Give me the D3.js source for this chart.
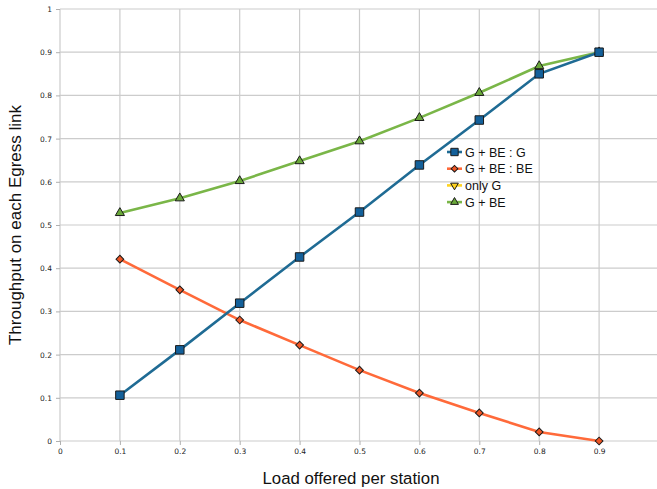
<!DOCTYPE html>
<html><head><meta charset="utf-8">
<script src="https://cdn.jsdelivr.net/npm/d3@7/dist/d3.min.js"></script>
<style>body{margin:0;background:#fff;}svg{display:block;font-family:"Liberation Sans",Arial,sans-serif;}</style>
</head><body><svg id="c" width="657" height="489"></svg>
<script>
const loads = [0.1,0.2,0.3,0.4,0.5,0.6,0.7,0.8,0.9];
const gbeG  = [0.106,0.211,0.319,0.426,0.530,0.639,0.743,0.850,0.900];
const gbeBE = [0.421,0.350,0.280,0.222,0.164,0.111,0.065,0.021,0.000];
const onlyG = [];
const gbe   = [0.528,0.562,0.602,0.648,0.694,0.748,0.806,0.868,0.900];
const xTicks = [0,0.1,0.2,0.3,0.4,0.5,0.6,0.7,0.8,0.9];
const yTicks = [0,0.1,0.2,0.3,0.4,0.5,0.6,0.7,0.8,0.9,1];
const seriesNames = ["G + BE : G","G + BE : BE","only G","G + BE"];

const svg = d3.select("#c");
const x = d3.scaleLinear().domain([0,1]).range([60,659]);
const y = d3.scaleLinear().domain([0,1]).range([441,9]);

// grid
svg.append("g").selectAll("line").data(yTicks).join("line")
  .attr("x1",60).attr("x2",657).attr("y1",d=>y(d)).attr("y2",d=>y(d))
  .attr("stroke","#cccccc").attr("stroke-width",1.2);
svg.append("g").selectAll("line").data(xTicks.concat([1])).join("line")
  .attr("x1",d=>x(d)).attr("x2",d=>x(d)).attr("y1",9).attr("y2",441)
  .attr("stroke","#cccccc").attr("stroke-width",1.2);

// axes
const yAxis = d3.axisLeft(y).tickValues(yTicks).tickSize(4).tickPadding(4).tickFormat(d=>d===0||d===1?String(d):d3.format(".1f")(d));
const gy = svg.append("g").attr("transform","translate(60,0)").call(yAxis);
const xAxis = d3.axisBottom(x).tickValues(xTicks).tickSize(4).tickPadding(4).tickFormat(d=>d===0?"0":d3.format(".1f")(d));
const gx = svg.append("g").attr("transform","translate(0,441)").call(xAxis);
[gx,gy].forEach(g=>{
  g.select(".domain").remove();
  g.selectAll(".tick line").attr("stroke","#b0b0b0");
  g.selectAll(".tick text").attr("fill","#222").style("font-size","7.5px").style("font-family","'DejaVu Sans',sans-serif");
});

// axis titles
svg.append("text").attr("x",351).attr("y",484).attr("text-anchor","middle")
  .style("font-size","16.8px").attr("fill","#111").text("Load offered per station");
svg.append("text").attr("transform","translate(21,225) rotate(-90)").attr("text-anchor","middle")
  .style("font-size","17px").attr("fill","#111").text("Throughput on each Egress link");

const series = [
  {name:seriesNames[0], vals:gbeG, line:"#1f6b94", fill:"#13609a", sym:d3.symbolSquare, size:72, rot:0},
  {name:seriesNames[1], vals:gbeBE, line:"#ff6a3a", fill:"#ee5524", sym:d3.symbolSquare, size:30, rot:45},
  {name:seriesNames[2], vals:onlyG, line:"#ffd320", fill:"#ffd320", sym:d3.symbolTriangle, size:34, rot:180},
  {name:seriesNames[3], vals:gbe, line:"#7ab648", fill:"#6aa83a", sym:d3.symbolTriangle, size:36, rot:0}
];
const line = d3.line().x(d=>x(d[0])).y(d=>y(d[1]));
const order = [1,3,0,2];
order.forEach(i=>{
  const s = series[i];
  const pts = s.vals.map((v,j)=>[loads[j],v]);
  svg.append("path").datum(pts).attr("d",line).attr("fill","none")
    .attr("stroke",s.line).attr("stroke-width",2.6);
});
order.forEach(i=>{
  const s = series[i];
  const pts = s.vals.map((v,j)=>[loads[j],v]);
  svg.append("g").selectAll("path").data(pts).join("path")
    .attr("d",d3.symbol().type(s.sym).size(s.size))
    .attr("transform",d=>`translate(${x(d[0])},${y(d[1])}) rotate(${s.rot})`)
    .attr("fill",s.fill).attr("stroke","#1a1a1a").attr("stroke-width",1);
});

// legend
const lg = svg.append("g");
series.forEach((s,i)=>{
  const yy = 152 + i*16.7;
  lg.append("line").attr("x1",447).attr("x2",462).attr("y1",yy).attr("y2",yy)
    .attr("stroke",s.line).attr("stroke-width",2.6);
  lg.append("path").attr("d",d3.symbol().type(s.sym).size(s.size*0.75))
    .attr("transform",`translate(454.5,${yy}) rotate(${s.rot})`)
    .attr("fill",s.fill).attr("stroke","#1a1a1a").attr("stroke-width",1);
  lg.append("text").attr("x",465).attr("y",yy+4.5).style("font-size","12.5px")
    .attr("fill","#111").text(s.name);
});
</script></body></html>
